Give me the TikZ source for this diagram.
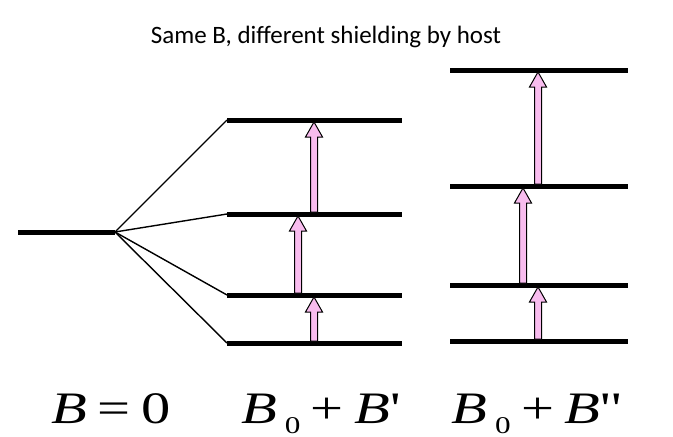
\documentclass[tikz,border=0pt]{standalone}
\usepackage{graphicx}
\usepackage{fontspec}
\setmainfont{Liberation Serif}
\newfontfamily\titlefont{Carlito}
\usetikzlibrary{calc}

\definecolor{arrowpink}{RGB}{248,188,238}

\tikzset{
  level/.style={line width=5pt},
  split/.style={line width=1.4pt},
  fieldlabel/.style={anchor=base, inner sep=0pt, font=\fontsize{45}{45}\selectfont},
}

% block arrow from #1 up to #2
\newcommand{\transarrow}[2]{%
  \filldraw[fill=arrowpink, draw=black, line width=1pt, line join=miter]
    ($(#1)+(-3.5,0)$) -- ($(#2)+(-3.5,15)$) -- ($(#2)+(-8.5,15)$) -- (#2)
    -- ($(#2)+(8.5,15)$) -- ($(#2)+(3.5,15)$) -- ($(#1)+(3.5,0)$) -- cycle;}

\newcommand{\subzero}{\hspace{6pt}\raisebox{-10pt}{\fontsize{24}{24}\selectfont 0}}
\newcommand{\gap}{\hspace{8pt}}
\newcommand{\widen}[1]{\scalebox{1.3}[1]{#1}}

\begin{document}
\begin{tikzpicture}[x=1pt, y=-1pt]
    \useasboundingbox (0,0) rectangle (673,437);

    \node[anchor=base, font=\titlefont\fontsize{25}{25}\selectfont] (title) at (326,43) {Same B, different shielding by host};

    % zero field level
    \coordinate (g0l) at (18,232);
    \coordinate (g0r) at (115,232);
    \draw[level] (g0l) -- (g0r);

    % B0 + B'
    \foreach \n/\y in {1/343, 2/295, 3/214, 4/120} {
        \coordinate (m\n l) at (227,\y);
        \coordinate (m\n r) at (402,\y);
        \draw[level] (m\n l) -- (m\n r);
        \draw[split] (g0r) -- (m\n l);
    }

    % B0 + B''
    \foreach \n/\y in {1/341, 2/285, 3/186, 4/70} {
        \coordinate (r\n l) at (450,\y);
        \coordinate (r\n r) at (628,\y);
        \draw[level] (r\n l) -- (r\n r);
    }

    % transitions
    \coordinate (ma1) at (314,341);
    \coordinate (mb1) at (314,297);
    \coordinate (ma2) at (298,293);
    \coordinate (mb2) at (298,216);
    \coordinate (ma3) at (314,212);
    \coordinate (mb3) at (314,122);
    \coordinate (ra1) at (538,339);
    \coordinate (rb1) at (538,287);
    \coordinate (ra2) at (523,283);
    \coordinate (rb2) at (523,188);
    \coordinate (ra3) at (538,184);
    \coordinate (rb3) at (538,72);
    \foreach \s in {m,r} {
        \foreach \k in {1,2,3} {
            \transarrow{\s a\k}{\s b\k}
        }
    }

    \node[fieldlabel] (lzero) at (111,423) {\widen{\textit{B}\gap=\gap0}};
    \node[fieldlabel] (lone) at (321,423) {\widen{\textit{B}\subzero\gap+\gap\textit{B}\textquotesingle}};
    \node[fieldlabel] (ltwo) at (537,423) {\widen{\textit{B}\subzero\gap+\gap\textit{B}\textquotesingle\kern1pt\textquotesingle}};
\end{tikzpicture}
\end{document}
